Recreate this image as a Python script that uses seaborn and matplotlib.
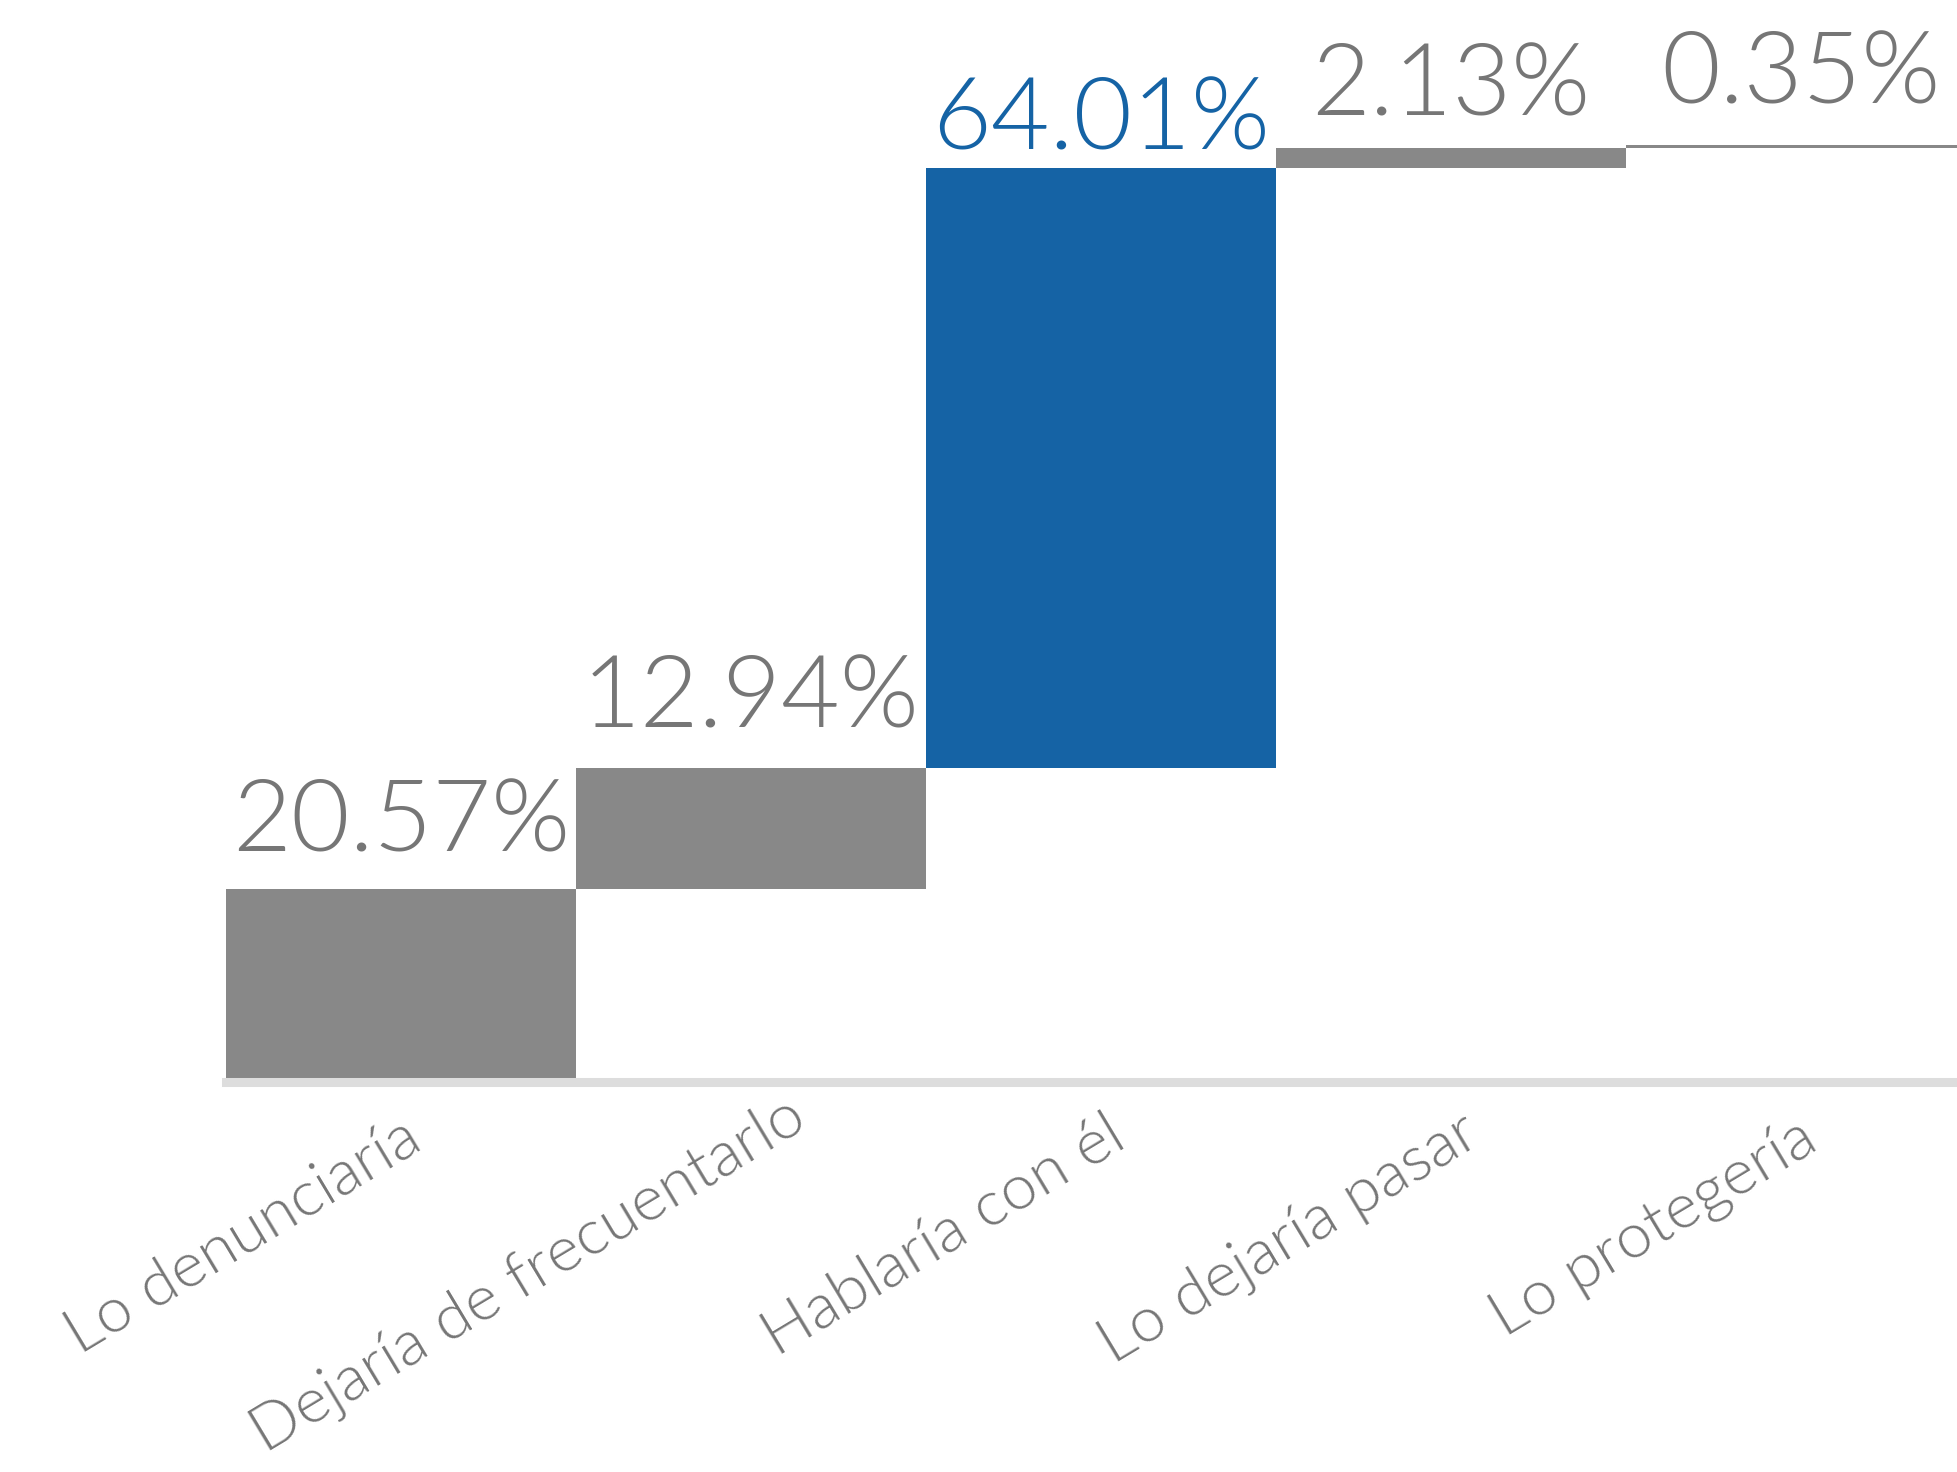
import matplotlib
matplotlib.use("Agg")
import numpy as np
import matplotlib.pyplot as plt
import matplotlib.transforms as mtransforms
import seaborn as sns

# datos del gráfico de cascada
categorias = ["Lo denunciaría", "Dejaría de frecuentarlo", "Hablaría con él",
              "Lo dejaría pasar", "Lo protegería"]
valores = [20.57, 12.94, 64.01, 2.13, 0.35]
etiquetas = ["20.57%", "12.94%", "64.01%", "2.13%", "0.35%"]
destacado = "Hablaría con él"

GRIS = "#888888"
AZUL = "#1563a5"
TEXTO = "#767676"

# base de cada barra = suma acumulada de las anteriores
bases = [sum(valores[:i]) for i in range(len(valores))]
colores = {c: (AZUL if c == destacado else GRIS) for c in categorias}

sns.set_theme(style="white")
plt.rcParams["font.family"] = ["Lato", "DejaVu Sans"]

fig = plt.figure(figsize=(19.58, 14.72), dpi=100)
ax = fig.add_axes([0.1154, 0.2649, 0.8846, 0.7351])

sns.barplot(x=categorias, y=valores, hue=categorias, palette=colores,
            width=1.0, saturation=1, legend=False, linewidth=0, ax=ax)

# mover las barras a su base (cascada)
for barra, base in zip(ax.patches, bases):
    barra.set_y(base)

# etiquetas de valor encima de cada barra
separacion = [27, 29, 14, 24, 30]  # puntos
for i, (base, v, txt) in enumerate(zip(bases, valores, etiquetas)):
    color = AZUL if categorias[i] == destacado else TEXTO
    ax.annotate(txt, (i, base + v), xytext=(0, separacion[i]),
                textcoords="offset points", ha="center", va="baseline",
                fontsize=73, fontweight=300, color=color)

ax.set_xlim(-0.5, 4.449)
ax.set_ylim(0, 115.5)
ax.set_yticks([])
for lado in ["top", "right", "left"]:
    ax.spines[lado].set_visible(False)
ax.spines["bottom"].set_color("#dddddd")
ax.spines["bottom"].set_linewidth(6.5)
ax.spines["bottom"].set_zorder(3)

# etiquetas del eje: las más largas se desplazan un poco a lo largo del texto
ang = 31
ax.tick_params(axis="x", length=0, pad=22)
for lbl, cat in zip(ax.get_xticklabels(), categorias):
    s = 0.045 * (len(cat) - 14)
    dx = s * np.cos(np.radians(ang))
    dy = 0.05 + s * np.sin(np.radians(ang))
    lbl.set_rotation(ang)
    lbl.set_ha("right")
    lbl.set_va("top")
    lbl.set_rotation_mode("anchor")
    lbl.set_fontsize(46)
    lbl.set_fontweight(300)
    lbl.set_color(TEXTO)
    lbl.set_transform(lbl.get_transform()
                      + mtransforms.ScaledTranslation(dx, dy, fig.dpi_scale_trans))

fig.savefig("out.png", dpi=100)
